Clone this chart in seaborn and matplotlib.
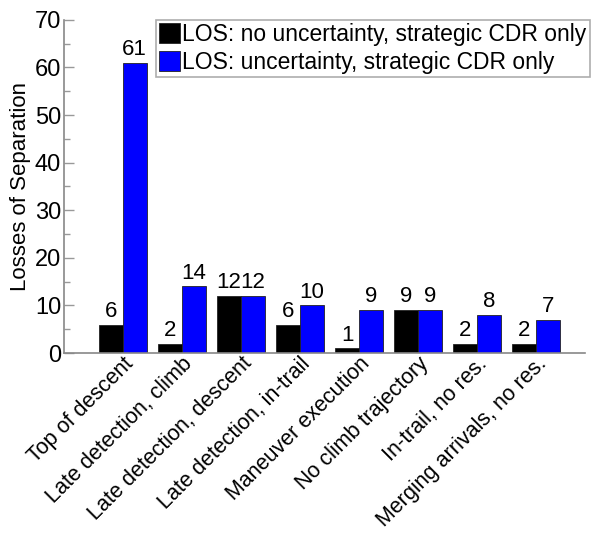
import matplotlib
matplotlib.use('Agg')

import pandas as pd
import matplotlib.pyplot as plt
import matplotlib.ticker as mticker
import seaborn as sns

# --- 資料 ---
categories = ['Top of descent', 'Late detection, climb', 'Late detection, descent',
              'Late detection, in-trail', 'Maneuver execution', 'No climb trajectory',
              'In-trail, no res.', 'Merging arrivals, no res.']
no_uncertainty = [6, 2, 12, 6, 1, 9, 2, 2]
with_uncertainty = [61, 14, 12, 10, 9, 9, 8, 7]
series_names = ['LOS: no uncertainty, strategic CDR only',
                'LOS: uncertainty, strategic CDR only']
colors = ['#000000', '#0000ff']

df = pd.DataFrame({
    'cat': categories * 2,
    'val': no_uncertainty + with_uncertainty,
    'series': [series_names[0]] * len(categories) + [series_names[1]] * len(categories),
})

sns.set_theme(style='white')
plt.rcParams['font.family'] = ['Liberation Sans', 'DejaVu Sans']
plt.rcParams['text.color'] = 'black'
plt.rcParams['xtick.color'] = 'black'
plt.rcParams['ytick.color'] = 'black'
plt.rcParams['axes.labelcolor'] = 'black'

fig = plt.figure(figsize=(5.92, 5.35), dpi=100)
ax = fig.add_axes([0.108, 0.340, 0.880, 0.623])

sns.barplot(data=df, x='cat', y='val', hue='series', palette=colors,
            width=0.8, edgecolor='#222222', linewidth=0.6, ax=ax, saturation=1)

for cont in ax.containers:
    ax.bar_label(cont, fontsize=16, padding=2, color='black')

ax.set_xlim(-1, 7.83)
ax.set_ylim(0, 70)
ax.yaxis.set_major_locator(mticker.MultipleLocator(10))
ax.yaxis.set_minor_locator(mticker.MultipleLocator(5))
ax.tick_params(axis='y', which='major', direction='in', length=7, width=1,
               color='#999999', labelcolor='black', labelsize=17, left=True, pad=2)
ax.tick_params(axis='y', which='minor', direction='in', length=4, width=1,
               color='#999999', left=True)
ax.tick_params(axis='x', length=0, labelsize=15.5, labelcolor='black', pad=0)
plt.setp(ax.get_xticklabels(), rotation=45, ha='right', rotation_mode='anchor')

ax.set_xlabel('')
ax.set_ylabel('Losses of Separation', fontsize=16, labelpad=3, color='black')

for s in ['top', 'right']:
    ax.spines[s].set_visible(False)
for s in ['left', 'bottom']:
    ax.spines[s].set_color('#888888')
    ax.spines[s].set_linewidth(1.2)

leg = ax.legend(loc='upper right', bbox_to_anchor=(1.01, 1.0), fontsize=16.5,
                frameon=True, fancybox=False, edgecolor='#999999',
                handlelength=0.92, handleheight=0.96, handletextpad=0.1,
                borderpad=0.15, labelspacing=0.2, borderaxespad=0)
leg.get_frame().set_linewidth(1.2)
for t in leg.get_texts():
    t.set_color('black')

fig.savefig('out.png', dpi=100)
